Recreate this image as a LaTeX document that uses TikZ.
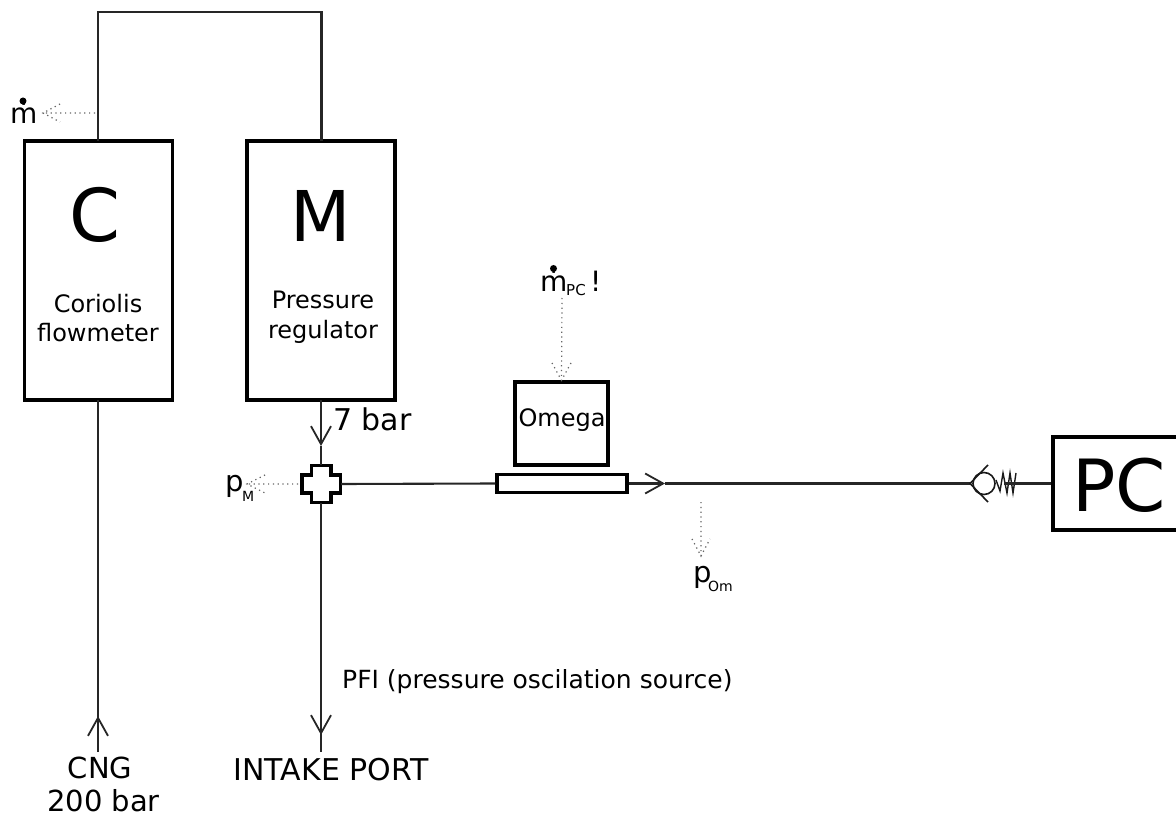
\documentclass[tikz,border=0pt]{standalone}
\usepackage{fontspec}
\setmainfont{DejaVu Sans}
\usetikzlibrary{arrows.meta}
\newcommand{\fs}[1]{\fontsize{#1}{#1}\selectfont}
\tikzset{
  x=1pt,y=-1pt,
  pipe/.style={line width=2.1pt,draw=black!85},
  boxn/.style={draw=black,line width=3.3pt,inner sep=0pt,fill=white},
  flowarrow/.style={pipe,-{Straight Barb[length=18pt,width=20pt,line width=1.8pt]}},
  sig/.style={draw=black!60,line width=1.2pt,dash pattern=on 1.2pt off 3.6pt},
  lab/.style={inner sep=0pt,anchor=base west,text=black},
  big/.style={inner sep=0pt,anchor=base,text=black},
  mid/.style={inner sep=0pt,anchor=base,text=black,font=\fs{24}},
  mdot/.style={fill=black,draw=none},
}
\begin{document}
\begin{tikzpicture}
\useasboundingbox (0,0) rectangle (1176,818);
% boxes
\node[boxn,minimum width=148pt,minimum height=259pt] (C) at (98.5,270.5) {};
\node[boxn,minimum width=148pt,minimum height=259pt] (M) at (321,270.5) {};
\node[boxn,minimum width=93pt,minimum height=83pt] (O) at (561.5,423.5) {};
\node[boxn,minimum width=130pt,minimum height=18pt] (T) at (562,483.5) {};
\node[boxn,minimum width=126pt,minimum height=93pt] (PC) at (1116,483.5) {};
\node[big,font=\fs{73}] at (95,242) {C};
\node[big,font=\fs{70}] at (321,242) {M};
\node[big,font=\fs{72}] at (1119,511) {PC};
\node[mid] at (98,313) {Coriolis};
\node[mid] at (98,342) {flowmeter};
\node[mid] at (323,309) {Pressure};
\node[mid] at (323,339) {regulator};
\node[mid] at (562,427) {Omega};
% cross
\coordinate (XT) at (321,465);
\coordinate (XB) at (321,503);
\coordinate (XR) at (341,484);
\draw[line width=3.3pt,fill=white,draw=black,line join=miter]
 (311.5,465.5) -- (331,465.5) -- (331,475) -- (340.5,475) -- (340.5,493) -- (331,493) -- (331,502.5) -- (311.5,502.5) -- (311.5,493) -- (302,493) -- (302,475) -- (311.5,475) -- cycle;
% top loop
\coordinate (CT) at (98,141);
\coordinate (MT) at (321.5,141);
\draw[pipe] (CT) -- (98,12) -- (321.5,12) -- (MT);
% pipes
\coordinate (CB) at (98,400);
\coordinate (CNG) at (98,752);
\draw[pipe] (CB) -- (CNG);
\draw[pipe,-{Straight Barb[length=18pt,width=20pt,line width=1.8pt]}] (CNG) -- (98,716);
\coordinate (MB) at (321,400);
\draw[flowarrow] (MB) -- (321,446);
\draw[pipe] (321,446) -- (XT);
\coordinate (IP) at (321,752);
\draw[pipe] (XB) -- (IP);
\draw[flowarrow] (321,650) -- (321,735);
\draw[pipe] (XR) -- (T.west);
\draw[flowarrow] (T.east) -- (665,483.5);
% main line to check valve
\coordinate (CVL) at (970,483.5);
\draw[pipe] (665,483.5) -- (CVL);
% check valve
\draw[line width=1.6pt,draw=black!90] (984,483.5) circle (11);
\draw[line width=1.6pt,draw=black!90] (988,465) -- (970,483.5) -- (988,502);
\draw[line width=1.4pt,draw=black!90] (996,480) -- (1000,491) -- (1003,473) -- (1007,493) -- (1010,473) -- (1013,493) -- (1016,473);
\draw[pipe] (1004,483.5) -- (PC.west);
% signals
\coordinate (s1a) at (95,113);
\coordinate (s1b) at (43,113);
\draw[sig] (s1a) -- (s1b) (60,104) -- (s1b) -- (60,122);
\coordinate (s2a) at (298,484);
\coordinate (s2b) at (247,484);
\draw[sig] (s2a) -- (s2b) (265,475) -- (s2b) -- (265,493);
\coordinate (s3a) at (562,298);
\draw[sig] (s3a) -- (O.north) (552,363) -- (O.north) -- (571,363);
\coordinate (s4a) at (701,502);
\coordinate (s4b) at (701,556);
\draw[sig] (s4a) -- (s4b) (692,539) -- (s4b) -- (710,539);
% labels
\node[lab,font=\fs{28}] at (10,124) {ṁ};
\fill[mdot] (23,101) circle (3.5);
\node[lab,font=\fs{29}] at (225,491) {p};
\node[lab,font=\fs{14}] at (242,501) {M};
\node[lab,font=\fs{28}] at (540,292) {ṁ};
\fill[mdot] (553.5,268.5) circle (3.5);
\node[lab,font=\fs{15}] at (566,296) {PC};
\node[lab,font=\fs{28}] at (590,292) {!};
\node[lab,font=\fs{29}] at (693,582) {p};
\node[lab,font=\fs{14}] at (708,591) {Om};
\node[lab,font=\fs{30}] at (333,431) {7 bar};
\node[lab,font=\fs{25}] at (342,688) {PFI (pressure oscilation source)};
\node[big,font=\fs{30}] at (331,780) {INTAKE PORT};
\node[big,font=\fs{29}] at (100,778) {CNG};
\node[big,font=\fs{29}] at (103.5,811) {200 bar};
\end{tikzpicture}
\end{document}
